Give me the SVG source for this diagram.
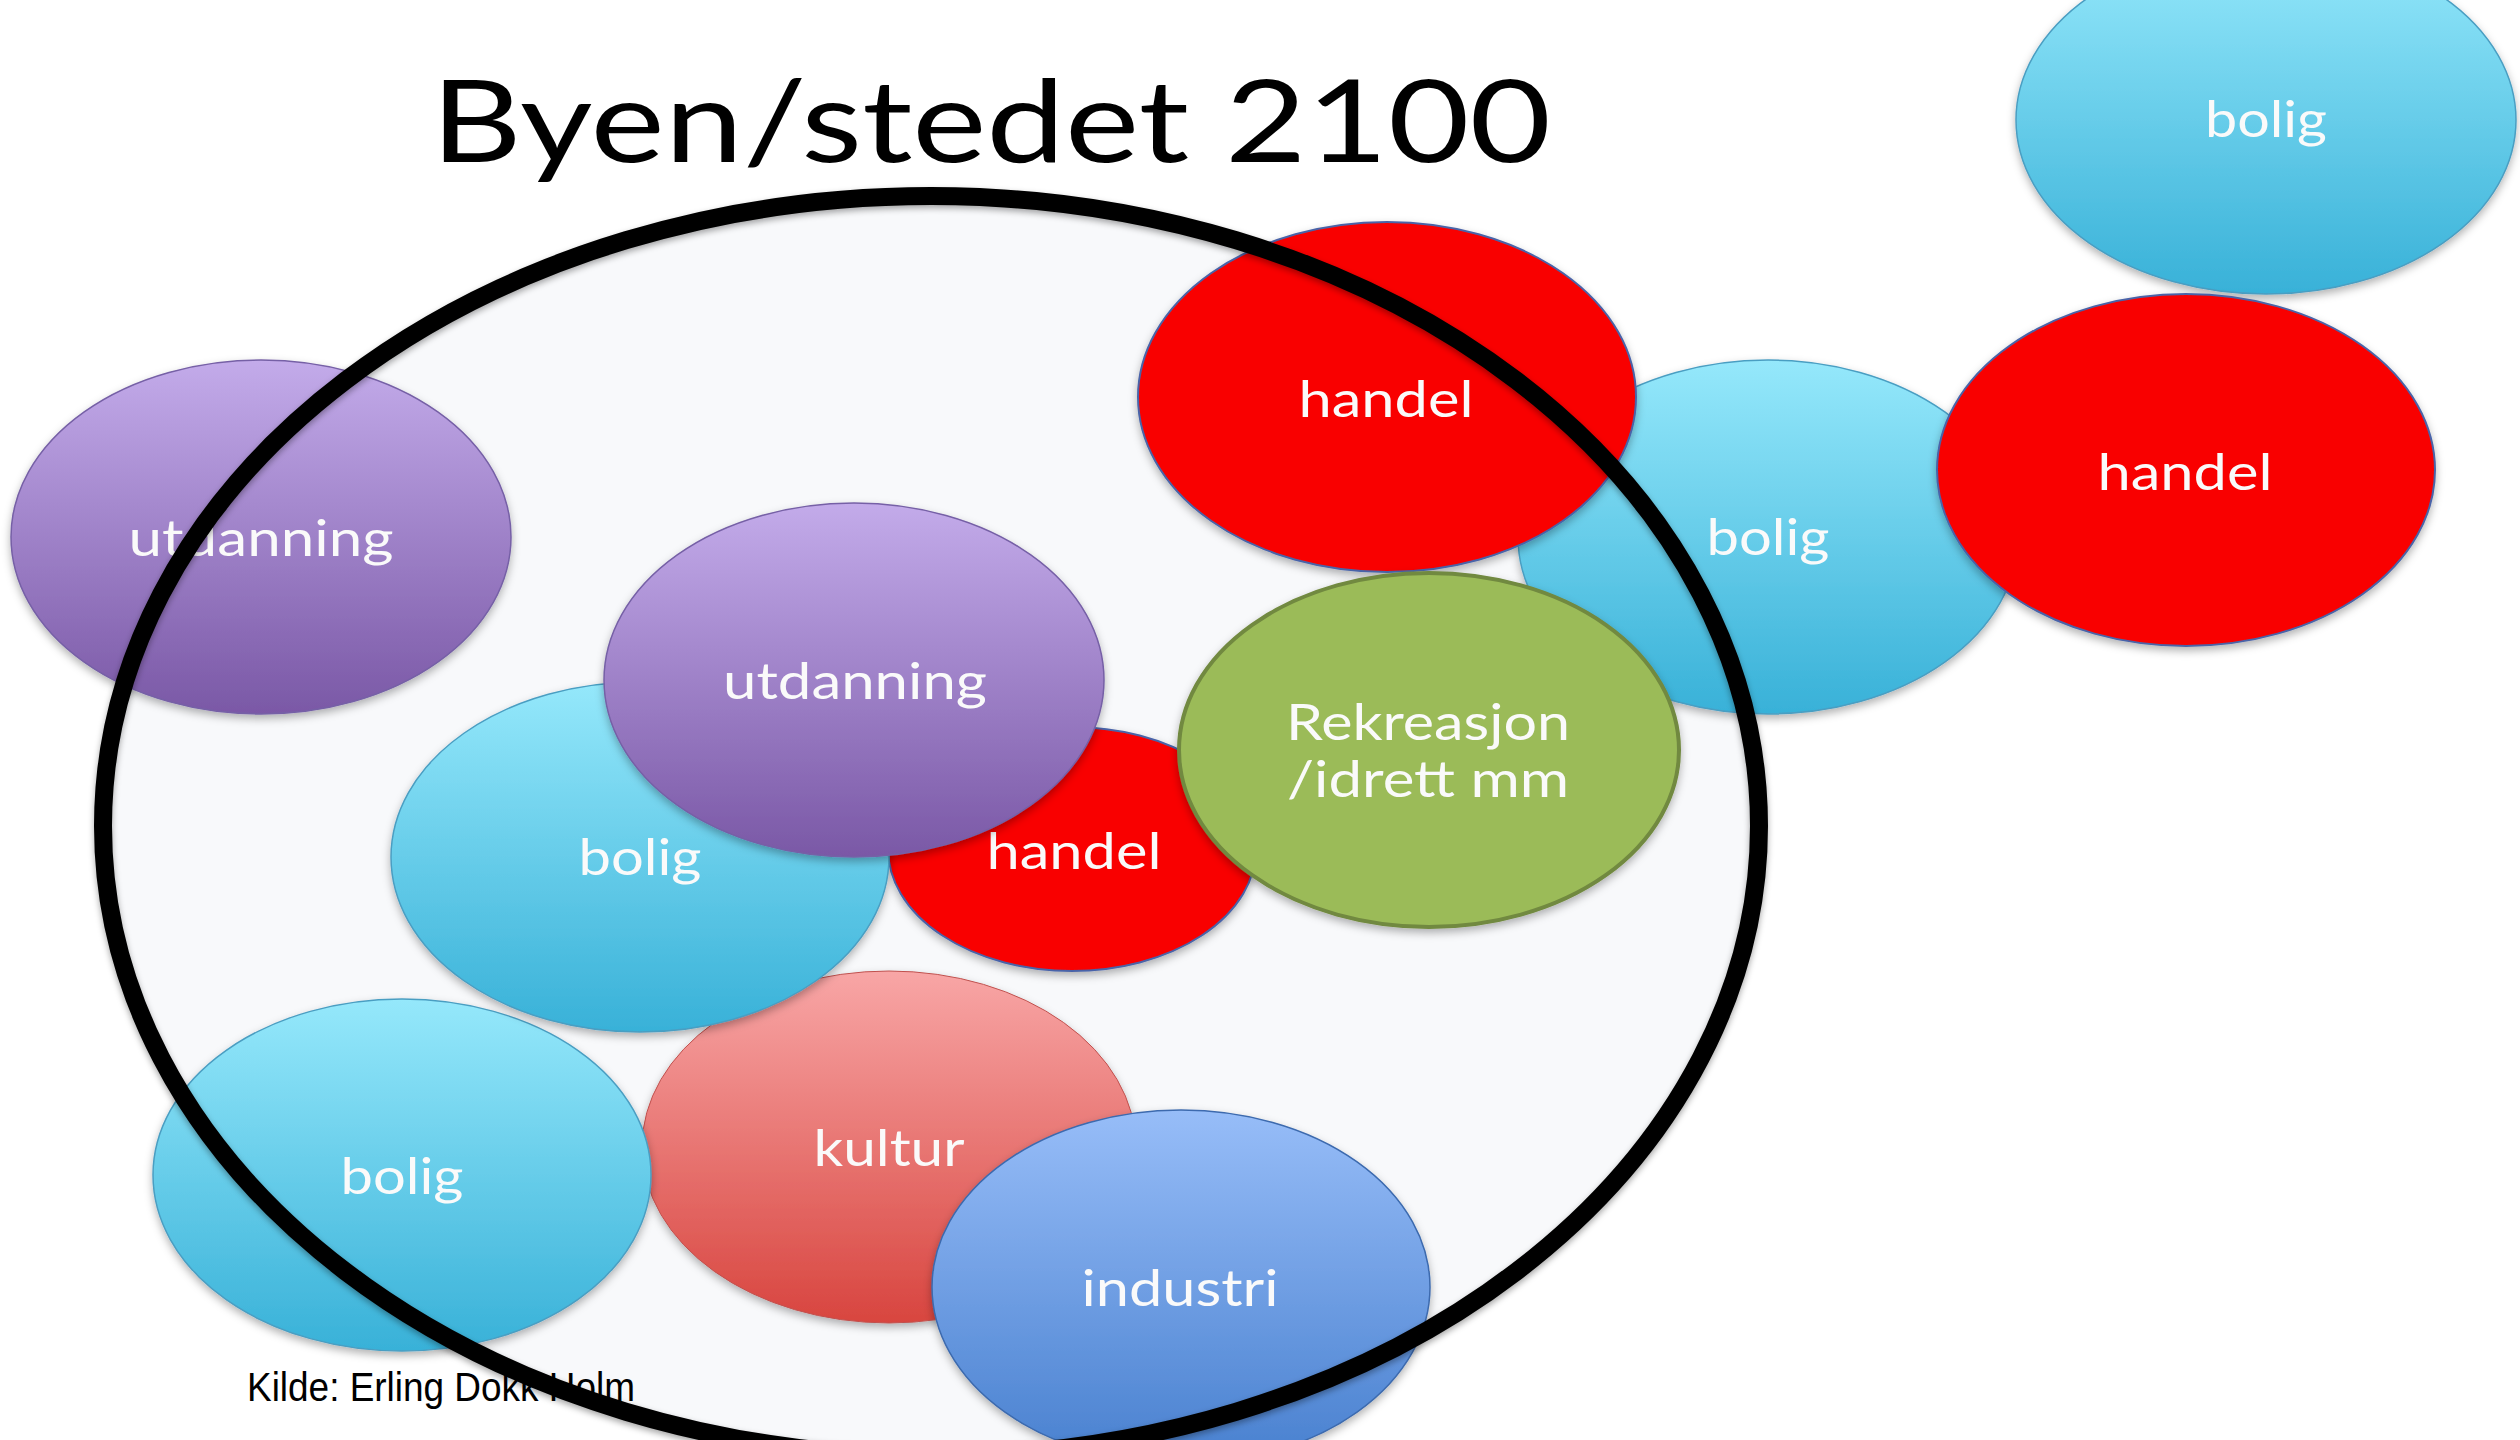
<svg xmlns="http://www.w3.org/2000/svg" width="2520" height="1440" viewBox="0 0 2520 1440">
<defs>
<linearGradient id="gBlue" x1="0" y1="0" x2="0" y2="1"><stop offset="0" stop-color="#95e8fb"/><stop offset="1" stop-color="#38b1d8"/></linearGradient>
<linearGradient id="gPurple" x1="0" y1="0" x2="0" y2="1"><stop offset="0" stop-color="#c3abea"/><stop offset="1" stop-color="#7a58a6"/></linearGradient>
<linearGradient id="gPink" x1="0" y1="0" x2="0" y2="1"><stop offset="0" stop-color="#f8a6a6"/><stop offset="1" stop-color="#d8453f"/></linearGradient>
<linearGradient id="gInd" x1="0" y1="0" x2="0" y2="1"><stop offset="0" stop-color="#97bdf8"/><stop offset="1" stop-color="#4880cf"/></linearGradient>
<filter id="sh" x="-10%" y="-10%" width="120%" height="125%"><feDropShadow dx="0" dy="4" stdDeviation="4" flood-color="#000" flood-opacity="0.3"/></filter>
<filter id="sh2" x="-5%" y="-5%" width="110%" height="110%"><feDropShadow dx="0" dy="3" stdDeviation="3" flood-color="#000" flood-opacity="0.35"/></filter>
</defs>
<style>
.lbl{font-family:Lato,"Open Sans",sans-serif;font-size:50px;fill:#fafafa;text-anchor:middle}
.blue{fill:url(#gBlue);stroke:#4a9ec2;stroke-width:1.5}
.purple{fill:url(#gPurple);stroke:#7660a6;stroke-width:1.5}
.red{fill:#f90000;stroke:#4a64a8;stroke-width:2}
.green{fill:#9bbb59;stroke:#71893f;stroke-width:4}
.pink{fill:url(#gPink);stroke:#c0504d;stroke-width:1}
.ind{fill:url(#gInd);stroke:#3c6aae;stroke-width:1.5}
.node{filter:url(#sh)}
</style>
<rect width="2520" height="1440" fill="#ffffff"/>
<text x="431" y="162" font-family="Lato,'Open Sans',sans-serif" font-size="114" fill="#000000" textLength="1120" lengthAdjust="spacingAndGlyphs">Byen/stedet 2100</text>
<ellipse id="city-fill" cx="931" cy="826" rx="828" ry="630" fill="#f8f9fb"/>
<g id="utdanning-left" class="node"><ellipse class="purple" cx="261" cy="537" rx="250" ry="177"/><text class="lbl" x="261" y="556" textLength="265" lengthAdjust="spacingAndGlyphs">utdanning</text></g>
<g id="bolig-topright" class="node"><ellipse class="blue" cx="2266" cy="120" rx="250" ry="174"/><text class="lbl" x="2266" y="137" textLength="122" lengthAdjust="spacingAndGlyphs">bolig</text></g>
<g id="bolig-midright" class="node"><ellipse class="blue" cx="1768" cy="537" rx="250" ry="177"/><text class="lbl" x="1768" y="555" textLength="123" lengthAdjust="spacingAndGlyphs">bolig</text></g>
<g id="handel-right" class="node"><ellipse class="red" cx="2186" cy="470" rx="249" ry="176"/><text class="lbl" x="2185" y="490" textLength="175" lengthAdjust="spacingAndGlyphs">handel</text></g>
<g id="handel-top" class="node"><ellipse class="red" cx="1387" cy="397" rx="249" ry="175"/><text class="lbl" x="1386" y="417" textLength="175" lengthAdjust="spacingAndGlyphs">handel</text></g>
<g id="kultur" class="node"><ellipse class="pink" cx="889" cy="1147" rx="247" ry="176"/><text class="lbl" x="889" y="1166" textLength="151" lengthAdjust="spacingAndGlyphs">kultur</text></g>
<g id="bolig-bottomleft" class="node"><ellipse class="blue" cx="402" cy="1175" rx="249" ry="176"/><text class="lbl" x="402" y="1194" textLength="123" lengthAdjust="spacingAndGlyphs">bolig</text></g>
<g id="handel-small" class="node"><ellipse class="red" cx="1072" cy="849" rx="184" ry="122"/><text class="lbl" x="1074" y="869" textLength="175" lengthAdjust="spacingAndGlyphs">handel</text></g>
<g id="bolig-center" class="node"><ellipse class="blue" cx="640" cy="857" rx="249" ry="175"/><text class="lbl" x="640" y="875" textLength="123" lengthAdjust="spacingAndGlyphs">bolig</text></g>
<g id="utdanning-mid" class="node"><ellipse class="purple" cx="854" cy="680" rx="250" ry="177"/><text class="lbl" x="855" y="699" textLength="264" lengthAdjust="spacingAndGlyphs">utdanning</text></g>
<g id="rekreasjon" class="node"><ellipse class="green" cx="1429" cy="750" rx="250" ry="177"/><text class="lbl" x="1428" y="740" textLength="284" lengthAdjust="spacingAndGlyphs">Rekreasjon</text><text class="lbl" x="1428" y="797" textLength="282" lengthAdjust="spacingAndGlyphs">/idrett mm</text></g>
<g id="industri" class="node"><ellipse class="ind" cx="1181" cy="1287" rx="249" ry="177"/><text class="lbl" x="1180" y="1306" textLength="197" lengthAdjust="spacingAndGlyphs">industri</text></g>
<text id="kilde" x="247" y="1401" font-family="'Liberation Sans',Arial,sans-serif" font-size="40" fill="#000000" textLength="388" lengthAdjust="spacingAndGlyphs">Kilde: Erling Dokk Holm</text>
<g id="connectors">
<ellipse id="city-outline" cx="931" cy="826" rx="828" ry="630" fill="none" stroke="#000000" stroke-width="18" filter="url(#sh2)"/>
</g>
</svg>
